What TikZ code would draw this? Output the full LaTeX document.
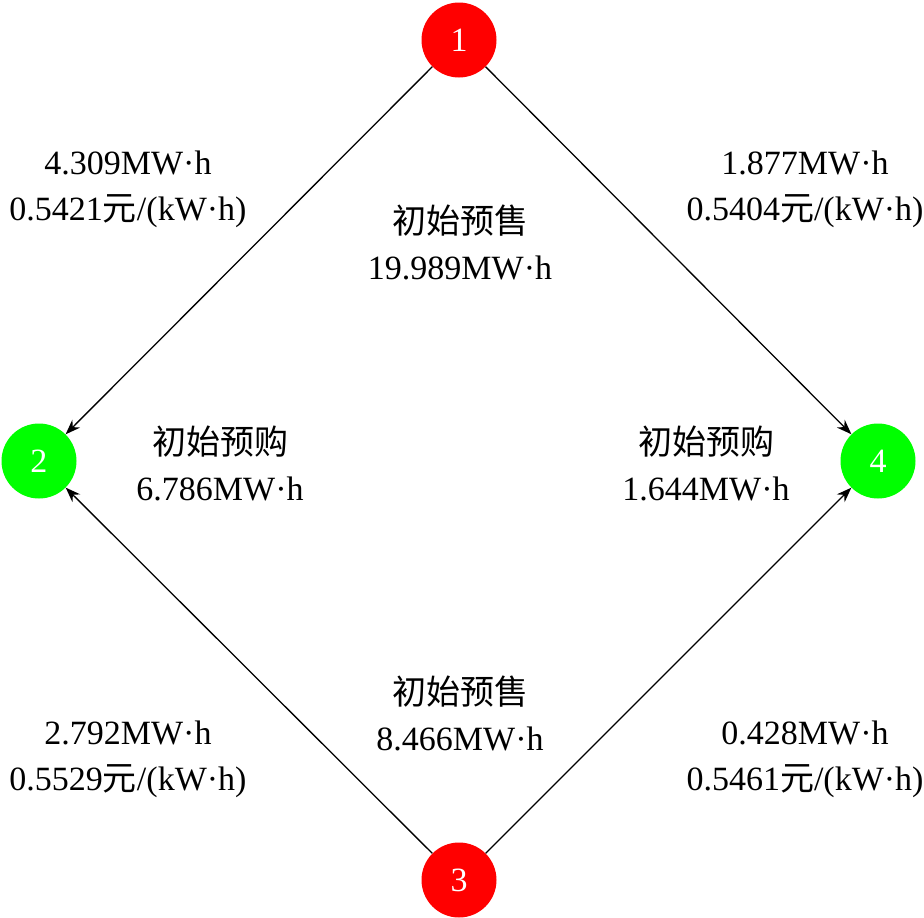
\documentclass[tikz,border=0pt]{standalone}
\usepackage{fontspec}
\setmainfont{Liberation Serif}
\newfontfamily\cjk{Noto Sans CJK SC}
\usetikzlibrary{arrows.meta, positioning}
\definecolor{ballred}{HTML}{FF0000}
\definecolor{ballgreen}{HTML}{00FF00}
\tikzset{
  ball/.style={circle, minimum size=75pt, inner sep=0pt, text=white},
  sellball/.style={ball, fill=ballred},
  buyball/.style={ball, fill=ballgreen},
  flow/.style={draw=black, line width=1.3pt, -{Stealth[length=15pt, width=11pt]}},
  info/.style={align=center, inner sep=0pt}
}
\begin{document}
\begin{tikzpicture}[x=1pt, y=-1pt, font=\fontsize{34}{46}\selectfont]
    \useasboundingbox (0,0) rectangle (924,918);
    % traders
    \node[sellball] (n1) at (459,40) {1};
    \node[buyball]  (n2) at (39,461) {2};
    \node[sellball] (n3) at (459,880) {3};
    \node[buyball]  (n4) at (878,461) {4};
    % trades
    \draw[flow] (n1) -- (n2);
    \draw[flow] (n1) -- (n4);
    \draw[flow] (n3) -- (n2);
    \draw[flow] (n3) -- (n4);
    % labels
    \node[info] (t12) at (128,189) {4.309MW·h\\0.5421{\cjk 元}/(kW·h)};
    \node[info] (t14) at (805,189) {1.877MW·h\\0.5404{\cjk 元}/(kW·h)};
    \node[info] (t32) at (128,759) {2.792MW·h\\0.5529{\cjk 元}/(kW·h)};
    \node[info] (t34) at (805,759) {0.428MW·h\\0.5461{\cjk 元}/(kW·h)};
    \node[info] (s1) at (460,242) {{\cjk 初始预售}\\19.989MW·h};
    \node[info] (s3) at (460,713) {{\cjk 初始预售}\\8.466MW·h};
    \node[info] (b2) at (220,463) {{\cjk 初始预购}\\6.786MW·h};
    \node[info] (b4) at (706,463) {{\cjk 初始预购}\\1.644MW·h};
  \end{tikzpicture}
\end{document}
